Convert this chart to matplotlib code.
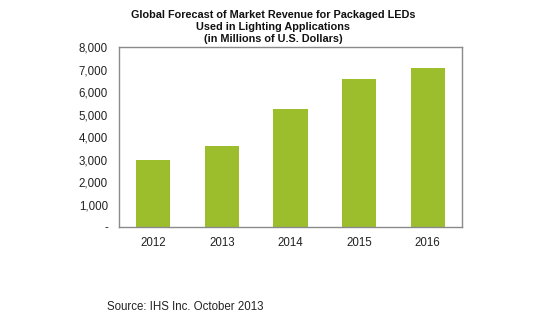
import matplotlib
matplotlib.use("Agg")
import matplotlib.pyplot as plt
from matplotlib.ticker import FuncFormatter

years = ["2012", "2013", "2014", "2015", "2016"]
revenue = [3000, 3600, 5250, 6600, 7070]
yticks = [0, 1000, 2000, 3000, 4000, 5000, 6000, 7000, 8000]

plt.rcParams['font.family'] = ['Liberation Sans', 'DejaVu Sans']

fig = plt.figure(figsize=(5.42, 3.22), dpi=100)
ax = fig.add_axes([119/542, 1-227/322, 343/542, 180/322])
ax.bar(years, revenue, width=0.5, color="#9cbe2d")
ax.set_ylim(0, 8000)
ax.set_xlim(-0.5, 4.5)
ax.set_yticks(yticks)
ax.yaxis.set_major_formatter(FuncFormatter(lambda v, p: "-" if v == 0 else f"{int(v):,}"))
ax.tick_params(length=0, labelsize=8.3, colors="#222222", pad=7)
ax.tick_params(axis='y', pad=8)
for s in ax.spines.values():
    s.set_color("#8a8a8a")
    s.set_linewidth(1.0)

fig.text(273/542, 1-27/322, "Global Forecast of Market Revenue for Packaged LEDs\nUsed in Lighting Applications\n(in Millions of U.S. Dollars)",
         ha="center", va="center", fontsize=7.8, fontweight="bold", linespacing=1.25, color="#111111")
fig.text(107/542, 1-307/322, "Source: IHS Inc. October 2013", ha="left", va="center", fontsize=8.3, color="#222222")

fig.savefig("out.png", dpi=100)
